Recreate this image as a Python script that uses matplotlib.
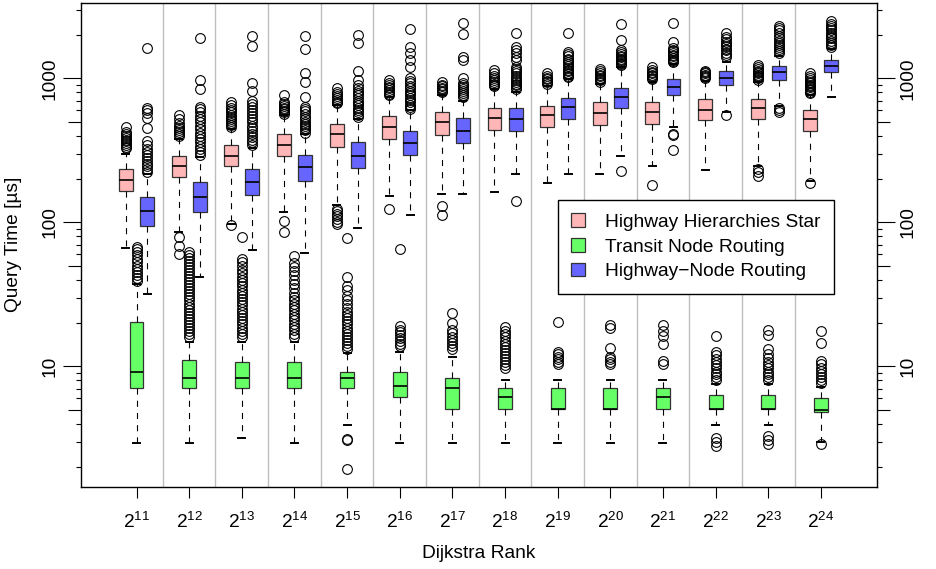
import matplotlib
matplotlib.use('Agg')
import matplotlib.pyplot as plt
from matplotlib.patches import Patch
from matplotlib.ticker import FixedLocator, FixedFormatter, NullFormatter

plt.rcParams['font.family'] = ['Liberation Sans', 'DejaVu Sans']
plt.rcParams['mathtext.fontset'] = 'custom'
plt.rcParams['mathtext.rm'] = 'Liberation Sans'
plt.rcParams['mathtext.it'] = 'Liberation Sans:italic'
plt.rcParams['mathtext.bf'] = 'Liberation Sans:bold'

# ---------------- data ----------------
exponents = list(range(11, 25))
tick_labels = [r'$\mathregular{2^{%d}}$' % e for e in exponents]
series_names = ['Highway Hierarchies Star', 'Transit Node Routing', 'Highway\u2212Node Routing']
series_colors = ['#FFB6B6', '#66FF66', '#6666FF']

# Highway Hierarchies Star
hhs_lo = [66, 85, 97, 117, 131, 152, 158, 162, 187, 217, 246, 229, 248, 195]
hhs_q1 = [164, 206, 246, 288, 336, 380, 405, 439, 458, 476, 483, 510, 524, 434]
hhs_med = [198, 246, 291, 347, 412, 458, 496, 529, 552, 573, 582, 607, 620, 524]
hhs_q3 = [236, 291, 346, 412, 478, 546, 582, 624, 647, 682, 690, 713, 713, 598]
hhs_hi = [300, 380, 446, 552, 650, 739, 760, 846, 891, 916, 940, 965, 940, 760]
hhs_fliers = [
    [326, 335, 345, 355, 365, 375, 385, 395, 410, 425, 461],
    [79, 68.5, 60, 395, 410, 425, 440, 455, 470, 490, 520, 552],
    [96, 460, 475, 490, 505, 520, 540, 560, 580, 600, 625, 655, 682],
    [102, 85, 565, 580, 595, 610, 625, 640, 660, 690, 760],
    [124, 119, 114, 110, 106, 101, 97, 670, 690, 710, 730, 755, 780, 805, 852],
    [124, 760, 780, 800, 825, 850, 875, 900, 930, 973],
    [129, 112, 800, 820, 840, 860, 880, 905, 947],
    [880, 900, 920, 945, 970, 1000, 1040, 1080, 1140],
    [920, 940, 960, 985, 1010, 1040, 1080],
    [950, 970, 990, 1010, 1030, 1060, 1090, 1130, 1164],
    [182, 990, 1010, 1030, 1050, 1080, 1110, 1150, 1194],
    [1000, 1020, 1040, 1060, 1080, 1105, 1132],
    [236, 222, 210, 980, 1000, 1020, 1040, 1060, 1080, 1100, 1130, 1160, 1190, 1236],
    [187, 787, 805, 825, 845, 865, 885, 905, 925, 950, 975, 1000, 1030, 1083],
]

# Transit Node Routing
tnr_lo = [2.94, 2.94, 3.18, 2.94, 3.91, 2.94, 2.94, 2.94, 2.94, 2.94, 2.94, 3.91, 3.91, 2.98]
tnr_q1 = [7.07, 7.04, 7.04, 7.04, 7.04, 6.12, 5.09, 5.09, 5.09, 5.09, 5.09, 5.09, 5.09, 4.82]
tnr_med = [9.13, 8.25, 8.25, 8.25, 8.25, 7.26, 7.08, 6.12, 5.09, 5.09, 6.12, 5.09, 5.09, 5.0]
tnr_q3 = [20.3, 11.1, 10.7, 10.7, 9.13, 9.13, 8.31, 7.08, 7.08, 7.08, 7.08, 6.29, 6.29, 6.03]
tnr_hi = [37.5, 14.8, 14.8, 14.8, 12.3, 12.5, 11.6, 8.0, 8.0, 8.0, 8.0, 7.5, 7.5, 7.2]
tnr_fliers = [
    [39, 41, 43, 45, 47.5, 50, 53, 56, 59, 62, 65, 67.5],
    [16, 16.8, 17.6, 18.5, 19.4, 20.4, 21.4, 22.5, 23.6, 24.8, 26, 27.3, 28.7, 30.1,
     31.6, 33.2, 34.9, 36.6, 38.4, 40.3, 42.3, 44.4, 46.6, 48.9, 51.3, 53.9, 56.6, 59.4, 62.4],
    [16, 16.8, 17.7, 18.6, 19.6, 20.6, 21.7, 22.8, 24, 25.2, 26.5, 27.9, 29.3, 30.8,
     32.4, 34, 36, 38, 40, 42, 44.5, 47, 50, 53, 56, 79],
    [16, 16.9, 17.8, 18.8, 19.8, 20.9, 22, 23.2, 24.5, 25.8, 27.2, 28.7, 30.5, 32.5,
     35, 37.5, 40, 43, 46, 49, 52, 58],
    [1.95, 3.1, 3.15, 13.1, 13.8, 14.5, 15.2, 16, 16.8, 17.7, 18.6, 19.6, 20.6, 21.7,
     22.8, 24, 25.5, 27, 29, 30.6, 33.7, 36, 41.8, 78.4],
    [13.8, 14.4, 15, 15.7, 16.4, 17.2, 18, 19, 64.9],
    [13.1, 13.8, 14.5, 15.3, 16.1, 17, 17.9, 19.9, 23.5],
    [9.7, 10.2, 10.7, 11.2, 11.8, 12.4, 13, 13.7, 14.4, 15.1, 15.9, 16.7, 17.6, 18.8],
    [10.4, 10.8, 11.2, 11.7, 12.2, 12.6, 20.4],
    [10.4, 10.8, 11.2, 11.7, 13.4, 18.4, 19.4],
    [10.4, 10.9, 14.4, 16.3, 17.5, 19.4],
    [2.8, 3.0, 3.2, 8.0, 8.4, 8.8, 9.2, 9.7, 10.2, 10.7, 11.3, 12, 12.6, 16.3],
    [2.9, 3.1, 3.3, 8.0, 8.4, 8.8, 9.2, 9.7, 10.2, 10.8, 11.4, 12.2, 13.1, 16.4, 17.8],
    [2.9, 7.6, 8.0, 8.4, 8.8, 9.3, 9.8, 10.3, 10.9, 14.5, 17.5],
]

# Highway-Node Routing
hnr_lo = [32, 42, 64, 61, 91, 112, 158, 217, 215, 291, 458, 585, 640, 747]
hnr_q1 = [94, 118, 154, 194, 238, 295, 354, 434, 524, 620, 760, 901, 981, 1102]
hnr_med = [120, 150, 192, 242, 291, 357, 434, 524, 630, 739, 877, 1002, 1102, 1227]
hnr_q3 = [151, 192, 236, 295, 364, 434, 532, 620, 732, 859, 992, 1120, 1213, 1344]
hnr_hi = [218, 283, 330, 412, 524, 598, 701, 801, 992, 1194, 1255, 1300, 1420, 1600]
hnr_fliers = [
    [225, 235, 245, 255, 268, 280, 295, 310, 325, 345, 365, 450, 527, 571, 600, 619, 1630],
    [295, 310, 325, 340, 360, 380, 400, 420, 445, 470, 495, 520, 550, 580, 610, 635, 839, 973, 1913],
    [345, 360, 375, 390, 410, 430, 450, 470, 495, 520, 545, 570, 600, 630, 665, 700, 814, 935, 1689, 1982],
    [420, 435, 450, 465, 480, 500, 520, 540, 565, 590, 615, 635, 745, 947, 1083, 1588, 1967],
    [540, 560, 580, 600, 625, 650, 675, 700, 730, 760, 790, 820, 860, 900, 973, 1124, 1750, 1999],
    [615, 635, 655, 680, 705, 730, 760, 790, 820, 855, 890, 925, 960, 1000, 1203, 1340, 1491, 1657, 2188],
    [745, 770, 795, 820, 845, 870, 895, 923, 1000, 1340, 1413, 2019, 2433],
    [140, 846, 870, 895, 920, 947, 975, 1005, 1040, 1080, 1120, 1160, 1203, 1340, 1413, 1500, 1575, 1657, 2054],
    [1016, 1040, 1065, 1090, 1120, 1150, 1180, 1215, 1250, 1290, 1330, 1370, 1420, 1470, 1515, 2068],
    [227, 1230, 1255, 1280, 1310, 1340, 1370, 1400, 1440, 1480, 1530, 1583, 1850, 2388],
    [412, 401, 319, 1290, 1320, 1350, 1380, 1420, 1460, 1500, 1540, 1583, 1615, 1795, 2410],
    [560, 1413, 1460, 1510, 1560, 1610, 1670, 1730, 1790, 1860, 1930, 2054],
    [622, 600, 586, 1491, 1540, 1590, 1640, 1700, 1760, 1830, 1900, 1980, 2060, 2150, 2230, 2307],
    [1657, 1710, 1770, 1830, 1890, 1950, 2010, 2080, 2150, 2230, 2310, 2400, 2516],
]

y_major = [10, 100, 1000]
y_major_labels = ['10', '100', '1000']
y_minor = [m * 10 ** k for k in range(0, 4) for m in range(2, 10)]
y_mid = [5, 50, 500]

series = [
    (hhs_lo, hhs_q1, hhs_med, hhs_q3, hhs_hi, hhs_fliers),
    (tnr_lo, tnr_q1, tnr_med, tnr_q3, tnr_hi, tnr_fliers),
    (hnr_lo, hnr_q1, hnr_med, hnr_q3, hnr_hi, hnr_fliers),
]
offsets = [-0.2, 0.0, 0.2]
FS = 13.8

# ---------------- figure ----------------
W, H = 937, 569
fig = plt.figure(figsize=(W / 100, H / 100), dpi=100)
L, R, T, B = 80.7, 876.7, 2.7, 486.7
ax = fig.add_axes([L / W, 1 - B / H, (R - L) / W, (B - T) / H])

ax.set_yscale('log')
ax.set_xlim(-0.06, len(exponents) + 1.06)
ax.set_ylim(1.459, 3350)

positions = list(range(1, len(exponents) + 1))
for p in positions[:-1]:
    ax.axvline(p + 0.5, color='#BEBEBE', lw=1.0, zorder=0.5)

for (lo, q1, med, q3, hi, fl), off, col in zip(series, offsets, series_colors):
    stats = []
    for i in range(len(exponents)):
        stats.append(dict(whislo=lo[i], q1=q1[i], med=med[i], q3=q3[i], whishi=hi[i], fliers=fl[i]))
    ax.bxp(stats, positions=[p + off for p in positions], widths=0.265,
           patch_artist=True, showfliers=True, manage_ticks=False,
           boxprops=dict(facecolor=col, edgecolor='#333333', linewidth=0.9),
           medianprops=dict(color='black', linewidth=1.2),
           whiskerprops=dict(color='black', linewidth=0.8, linestyle=(0, (5.5, 5.5))),
           capprops=dict(color='black', linewidth=1.4),
           flierprops=dict(marker='o', markerfacecolor='none', markeredgecolor='black',
                           markersize=7, markeredgewidth=0.8),
           zorder=2)

for s in ax.spines.values():
    s.set_linewidth(1.0)
    s.set_color('black')

# x ticks
ax.set_xticks(positions)
ax.set_xticklabels(tick_labels)
ax.tick_params(axis='x', which='major', length=8, width=0.8, pad=10, labelsize=FS, direction='out')
ax.xaxis.set_minor_locator(FixedLocator([]))

# y ticks
ax.yaxis.set_major_locator(FixedLocator(y_major))
ax.yaxis.set_major_formatter(FixedFormatter(y_major_labels))
ax.yaxis.set_minor_locator(FixedLocator(y_minor))
ax.yaxis.set_minor_formatter(NullFormatter())
ax.tick_params(axis='y', which='major', length=13.3, width=0.8, pad=3, labelsize=FS,
               left=True, right=True, labelleft=True, labelright=True, direction='out',
               labelrotation=90)
ax.tick_params(axis='y', which='minor', length=3.4, width=0.8,
               left=True, right=True, direction='out')
for t in ax.yaxis.get_major_ticks():
    t.label1.set_va('center')
    t.label2.set_va('center')
minor_locs = ax.yaxis.get_minorticklocs()
for t, loc in zip(ax.yaxis.get_minor_ticks(len(minor_locs)), minor_locs):
    if any(abs(loc - m) < 1e-9 for m in y_mid):
        t.tick1line.set_markersize(9.4)
        t.tick2line.set_markersize(9.4)

fig.text(((L + R) / 2) / W, 1 - 554 / H, 'Dijkstra Rank', ha='center', va='center', fontsize=FS)
fig.text(14 / W, 1 - ((T + B) / 2) / H, 'Query Time [\u00b5s]', ha='center', va='center',
         rotation=90, fontsize=FS)

handles = [Patch(facecolor=c, edgecolor='#333333', linewidth=0.9) for c in series_colors]
leg = ax.legend(handles, series_names, loc='upper left',
                bbox_to_anchor=(557.7 / W, 1 - 200 / H), bbox_transform=fig.transFigure,
                borderaxespad=0, fontsize=FS, frameon=True, fancybox=False,
                framealpha=1, edgecolor='black', handlelength=0.75, handleheight=0.7,
                handletextpad=1.0, labelspacing=0.38, borderpad=0.7)
leg.get_frame().set_linewidth(1.0)
leg.set_zorder(5)

fig.savefig('out.png', dpi=100)
